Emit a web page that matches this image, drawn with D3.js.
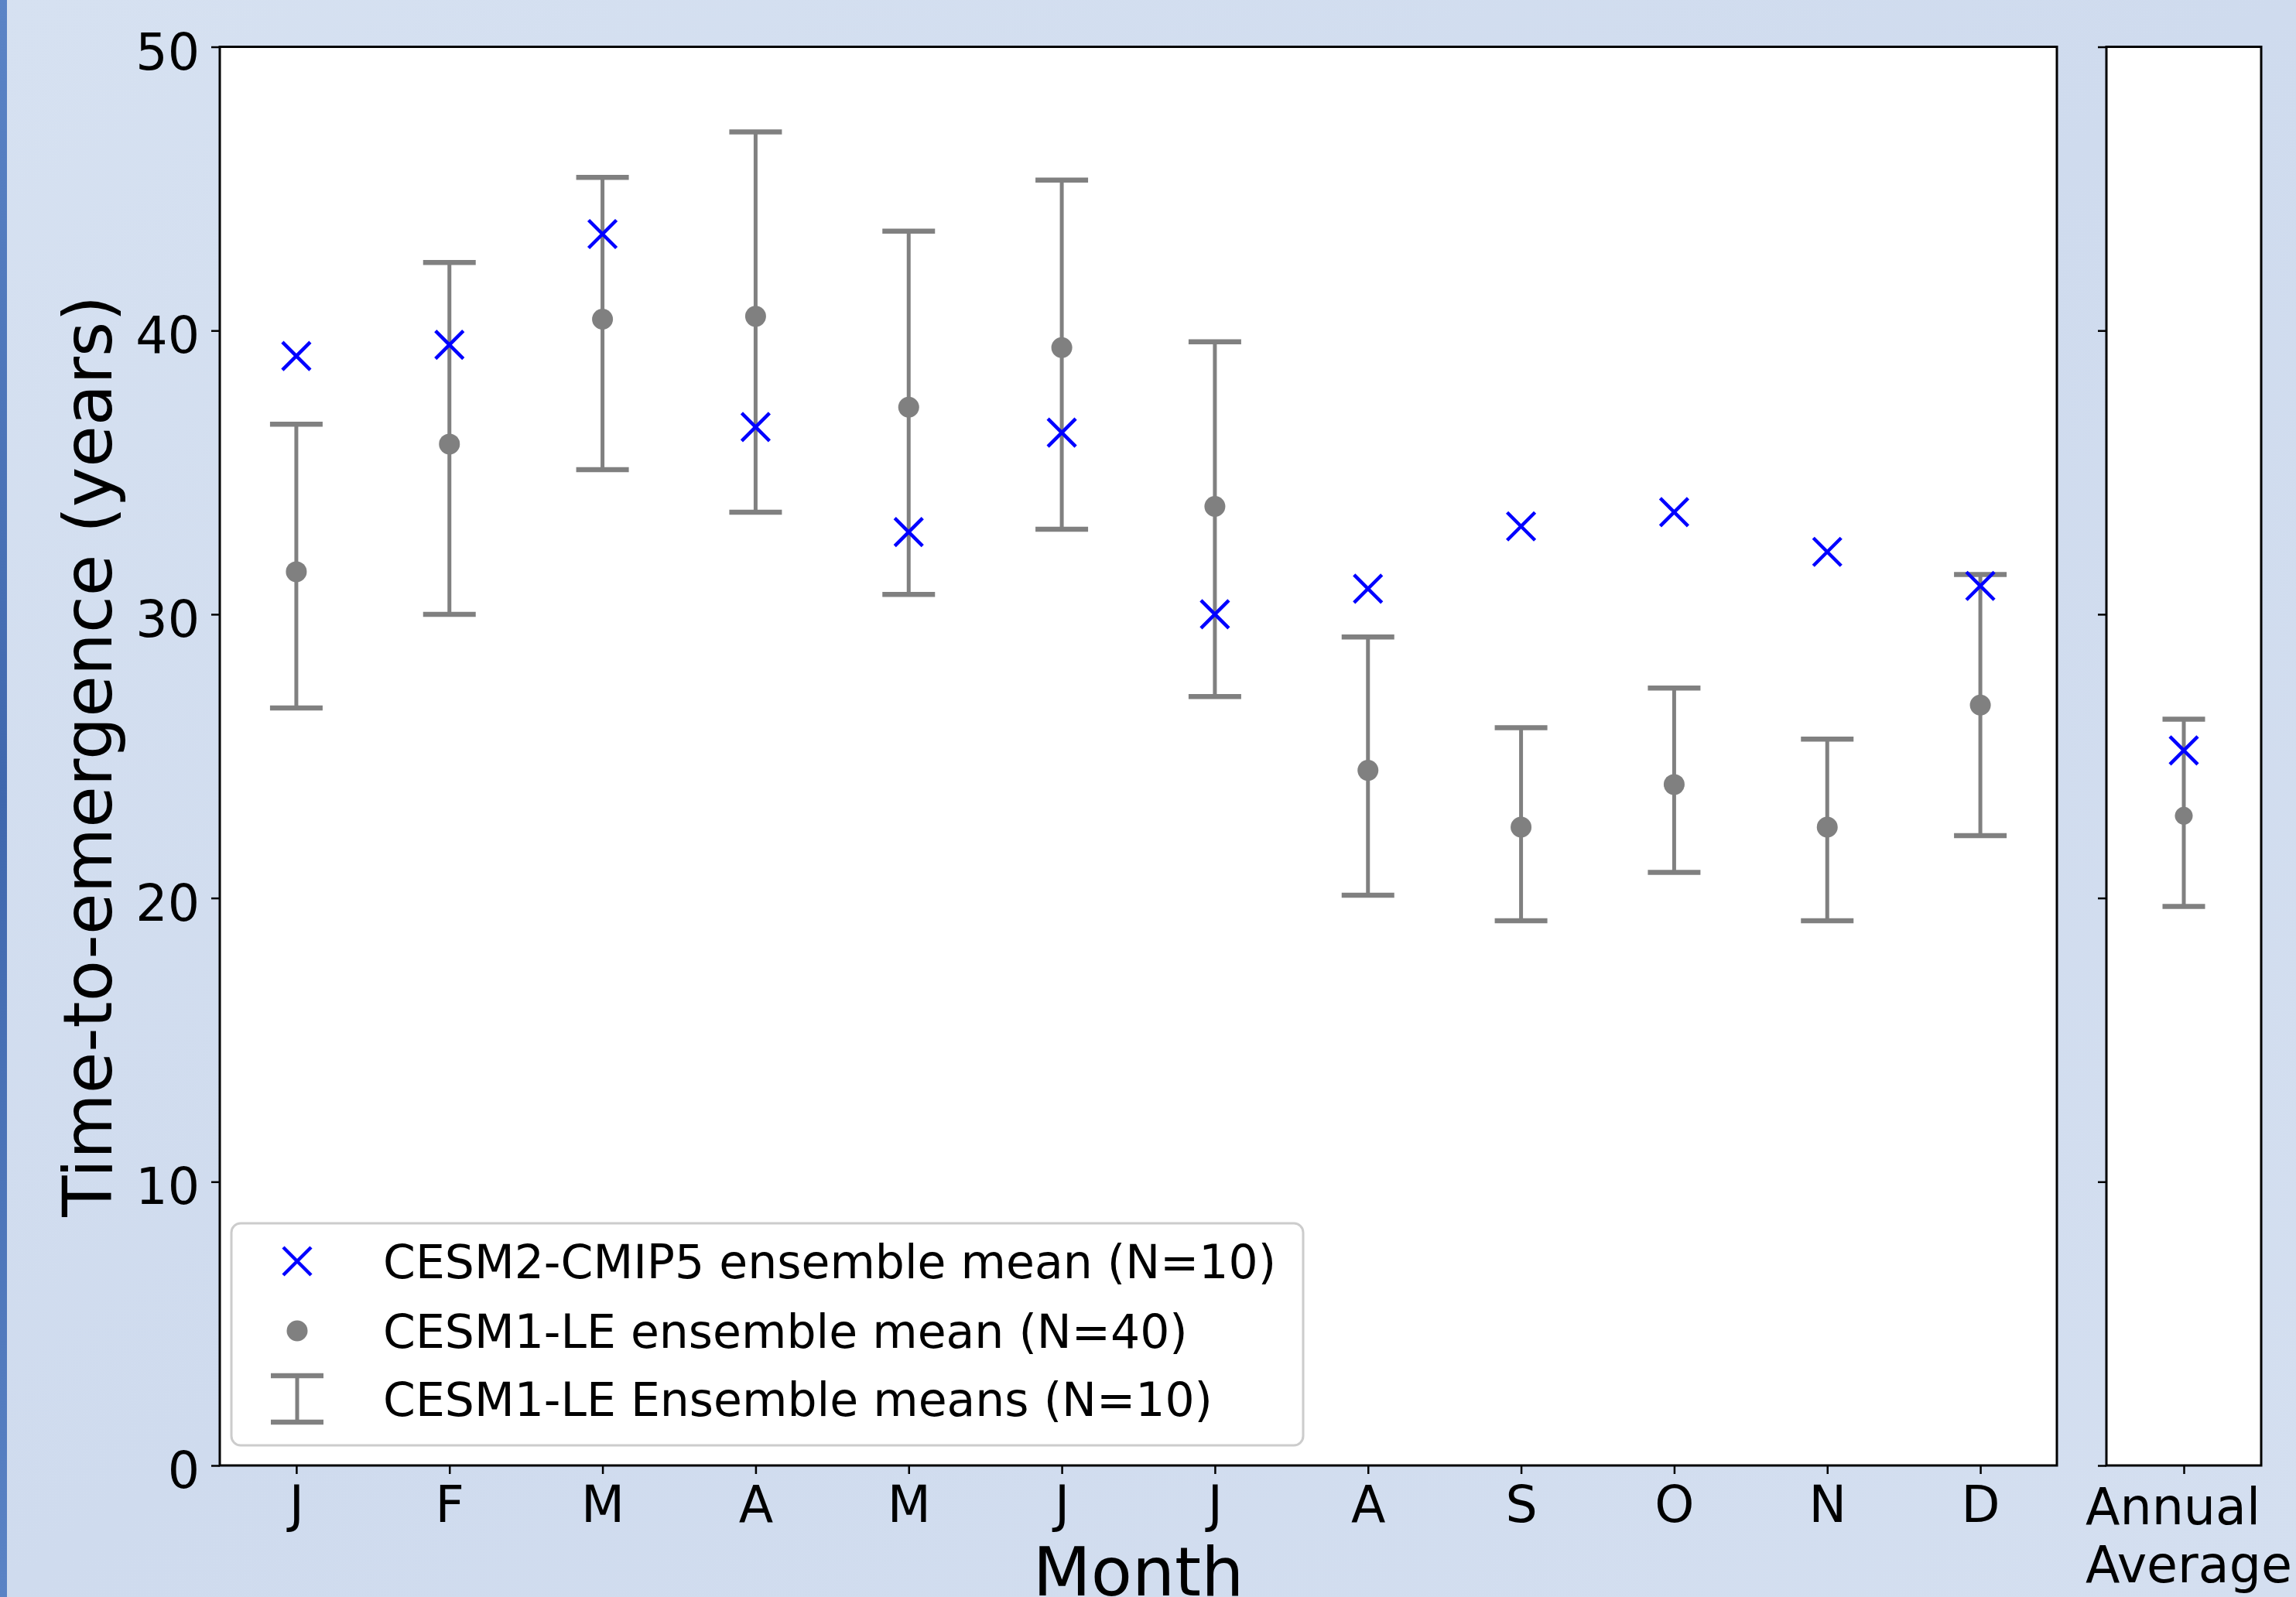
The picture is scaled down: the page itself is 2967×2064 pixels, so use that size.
<!DOCTYPE html>
<html>
<head>
<meta charset="utf-8">
<script src="https://cdn.jsdelivr.net/npm/d3@7"></script>
<style>
    html, body { margin: 0; padding: 0; background: #d4dff0; }
    svg { display: block; }
    text { font-family: "DejaVu Sans", sans-serif; fill: #000; }
</style>
</head>
<body>
<svg id="chart"></svg>
<script>
// values
const MONTHS       = ["J", "F", "M", "A", "M", "J", "J", "A", "S", "O", "N", "D"];
const CESM2_MEAN   = [39.1, 39.5, 43.4, 36.6, 32.9, 36.4, 30.0, 30.9, 33.1, 33.6, 32.2, 31.0];
const CESM1_MEAN   = [31.5, 36.0, 40.4, 40.5, 37.3, 39.4, 33.8, 24.5, 22.5, 24.0, 22.5, 26.8];
const CESM1_HIGH   = [36.7, 42.4, 45.4, 47.0, 43.5, 45.3, 39.6, 29.2, 26.0, 27.4, 25.6, 31.4];
const CESM1_LOW    = [26.7, 30.0, 35.1, 33.6, 30.7, 33.0, 27.1, 20.1, 19.2, 20.9, 19.2, 22.2];
const ANNUAL_LABEL = ["Annual", "Average"];
const ANNUAL_CESM2 = [25.2];
const ANNUAL_CESM1 = [22.9];
const ANNUAL_HIGH  = [26.3];
const ANNUAL_LOW   = [19.7];
const Y_TICKS      = [0, 10, 20, 30, 40, 50];
const LEGEND_LABELS = [
    "CESM2-CMIP5 ensemble mean (N=10)",
    "CESM1-LE ensemble mean (N=40)",
    "CESM1-LE Ensemble means (N=10)"
];

const SVG_WIDTH = 2967;
const SVG_HEIGHT = 2064;
const AX_TOP = 60.5;
const AX_BOTTOM = 1894;
const MAIN_LEFT = 284;
const MAIN_RIGHT = 2658;
const ANN_LEFT = 2722;
const ANN_RIGHT = 2922;
const TICK_FONT = 65;
const LABEL_FONT = 87;
const LEGEND_FONT = 60;
const TICK_LEN = 11;
const GRAY = "#808080";
const BLUE = "#0000ff";

const svg = d3.select("#chart").attr("width", SVG_WIDTH).attr("height", SVG_HEIGHT);

const y = d3.scaleLinear().domain([0, 50]).range([AX_BOTTOM, AX_TOP]);
const xMain = d3.scaleLinear().domain([-0.5, MONTHS.length - 0.5]).range([MAIN_LEFT, MAIN_RIGHT]);
const xAnn = d3.scaleLinear().domain([-0.5, 0.5]).range([ANN_LEFT, ANN_RIGHT]);

drawBackground();
drawPanel(xMain, MONTHS.map((m, i) => i), CESM2_MEAN, CESM1_MEAN, CESM1_HIGH, CESM1_LOW,
          { cap: 68, dot: 27 });
drawPanel(xAnn, [0], ANNUAL_CESM2, ANNUAL_CESM1, ANNUAL_HIGH, ANNUAL_LOW, { cap: 55, dot: 23 });
drawAxes();
drawLegend();

/**
 * Pale blue page with the dark strip on the left edge
 */
function drawBackground() {
    const defs = svg.append("defs");
    const grad = defs.append("linearGradient").attr("id", "bg").attr("x1", 0).attr("y1", 0).attr("x2", 1).attr("y2", 1);
    grad.append("stop").attr("offset", "0%").attr("stop-color", "#d6e1f1");
    grad.append("stop").attr("offset", "50%").attr("stop-color", "#cfdbee");
    grad.append("stop").attr("offset", "100%").attr("stop-color", "#d4dff0");
    svg.append("rect").attr("width", SVG_WIDTH).attr("height", SVG_HEIGHT).attr("fill", "url(#bg)");

    const strip = defs.append("linearGradient").attr("id", "strip").attr("x1", 0).attr("y1", 0).attr("x2", 0).attr("y2", 1);
    strip.append("stop").attr("offset", "0%").attr("stop-color", "#5b84c6");
    strip.append("stop").attr("offset", "50%").attr("stop-color", "#3f67ad");
    strip.append("stop").attr("offset", "100%").attr("stop-color", "#5a83c5");
    svg.append("rect").attr("width", 9).attr("height", SVG_HEIGHT).attr("fill", "url(#strip)");

    [[MAIN_LEFT, MAIN_RIGHT], [ANN_LEFT, ANN_RIGHT]].forEach(([l, r]) => {
        svg.append("rect")
            .attr("x", l).attr("y", AX_TOP)
            .attr("width", r - l).attr("height", AX_BOTTOM - AX_TOP)
            .attr("fill", "#ffffff");
    });
}

/**
 * Error bars, dots and crosses for one panel
 */
function drawPanel(x, idx, cesm2, cesm1, high, low, size) {
    const g = svg.append("g");
    const bars = g.selectAll(".bar").data(idx).enter().append("g").attr("class", "bar");
    bars.append("line")
        .attr("x1", i => x(i)).attr("x2", i => x(i))
        .attr("y1", (d, j) => y(high[j])).attr("y2", (d, j) => y(low[j]))
        .attr("stroke", GRAY).attr("stroke-width", 5);
    [high, low].forEach(arr => {
        bars.append("line")
            .attr("x1", i => x(i) - size.cap / 2).attr("x2", i => x(i) + size.cap / 2)
            .attr("y1", (d, j) => y(arr[j])).attr("y2", (d, j) => y(arr[j]))
            .attr("stroke", GRAY).attr("stroke-width", 6.5);
    });

    g.selectAll(".dot").data(idx).enter().append("circle")
        .attr("cx", i => x(i)).attr("cy", (d, j) => y(cesm1[j]))
        .attr("r", size.dot / 2).attr("fill", GRAY);

    g.selectAll(".cross").data(idx).enter().append("path")
        .attr("d", (i, j) => crossPath(x(i), y(cesm2[j]), 18))
        .attr("stroke", BLUE).attr("stroke-width", 4.5).attr("fill", "none");
}

function crossPath(cx, cy, h) {
    return `M${cx - h},${cy - h}L${cx + h},${cy + h}M${cx - h},${cy + h}L${cx + h},${cy - h}`;
}

/**
 * Spines, ticks, tick labels and axis titles
 */
function drawAxes() {
    const styleAxis = g => {
        g.select(".domain").remove();
        g.selectAll(".tick line").attr("stroke", "#000").attr("stroke-width", 2.5);
        g.selectAll(".tick text").attr("font-size", TICK_FONT).attr("font-family", "DejaVu Sans");
    };

    svg.append("g")
        .attr("transform", `translate(${MAIN_LEFT},0)`)
        .call(d3.axisLeft(y).tickValues(Y_TICKS).tickSize(TICK_LEN).tickPadding(15).tickFormat(d3.format("d")))
        .call(styleAxis)
        .selectAll(".tick text").attr("dy", "0.44em");

    svg.append("g")
        .attr("transform", `translate(${ANN_LEFT},0)`)
        .call(d3.axisLeft(y).tickValues(Y_TICKS).tickSize(TICK_LEN).tickFormat(""))
        .call(styleAxis);

    svg.append("g")
        .attr("transform", `translate(0,${AX_BOTTOM})`)
        .call(d3.axisBottom(xMain).tickValues(MONTHS.map((m, i) => i)).tickSize(TICK_LEN)
            .tickPadding(0).tickFormat(i => MONTHS[i]))
        .call(styleAxis)
        .selectAll(".tick text").attr("y", 73).attr("dy", 0);

    const annAxis = svg.append("g")
        .attr("transform", `translate(0,${AX_BOTTOM})`)
        .call(d3.axisBottom(xAnn).tickValues([0]).tickSize(TICK_LEN).tickFormat(""))
        .call(styleAxis);
    // two-line label, lines left aligned on a block centred on the tick
    const annText = annAxis.append("text")
        .attr("font-size", TICK_FONT)
        .attr("text-anchor", "start");
    annText.selectAll("tspan").data(ANNUAL_LABEL).enter().append("tspan")
        .attr("x", xAnn(0) - 127)
        .attr("y", (d, i) => 76 + i * 75)
        .text(d => d);

    [[MAIN_LEFT, MAIN_RIGHT], [ANN_LEFT, ANN_RIGHT]].forEach(([l, r]) => {
        svg.append("rect")
            .attr("x", l).attr("y", AX_TOP)
            .attr("width", r - l).attr("height", AX_BOTTOM - AX_TOP)
            .attr("fill", "none").attr("stroke", "#000").attr("stroke-width", 3);
    });

    svg.append("text")
        .attr("transform", `translate(144,${(AX_TOP + AX_BOTTOM) / 2}) rotate(-90)`)
        .attr("text-anchor", "middle")
        .attr("font-size", LABEL_FONT)
        .text("Time-to-emergence (years)");

    svg.append("text")
        .attr("x", (MAIN_LEFT + MAIN_RIGHT) / 2)
        .attr("y", 2062)
        .attr("text-anchor", "middle")
        .attr("font-size", LABEL_FONT)
        .text("Month");
}

/**
 * Legend box in the lower left corner
 */
function drawLegend() {
    const g = svg.append("g").attr("transform", "translate(299,1581)");
    g.append("rect")
        .attr("width", 1385).attr("height", 287).attr("rx", 12)
        .attr("fill", "#ffffff").attr("fill-opacity", 0.8)
        .attr("stroke", "#cccccc").attr("stroke-width", 3);

    const rows = [49, 139, 227];
    const mx = 85;

    g.append("path")
        .attr("d", crossPath(mx, rows[0], 18))
        .attr("stroke", BLUE).attr("stroke-width", 4.5).attr("fill", "none");
    g.append("circle").attr("cx", mx).attr("cy", rows[1]).attr("r", 13.5).attr("fill", GRAY);
    const eb = g.append("g").attr("stroke", GRAY);
    eb.append("line").attr("x1", mx).attr("x2", mx).attr("y1", rows[2] - 30).attr("y2", rows[2] + 30).attr("stroke-width", 5);
    [-30, 30].forEach(o => eb.append("line")
        .attr("x1", mx - 34).attr("x2", mx + 34)
        .attr("y1", rows[2] + o).attr("y2", rows[2] + o).attr("stroke-width", 6.5));

    g.selectAll(".label").data(LEGEND_LABELS).enter().append("text")
        .attr("x", 196)
        .attr("y", (d, i) => rows[i] + 22)
        .attr("font-size", LEGEND_FONT)
        .text(d => d);
}
</script>
</body>
</html>
